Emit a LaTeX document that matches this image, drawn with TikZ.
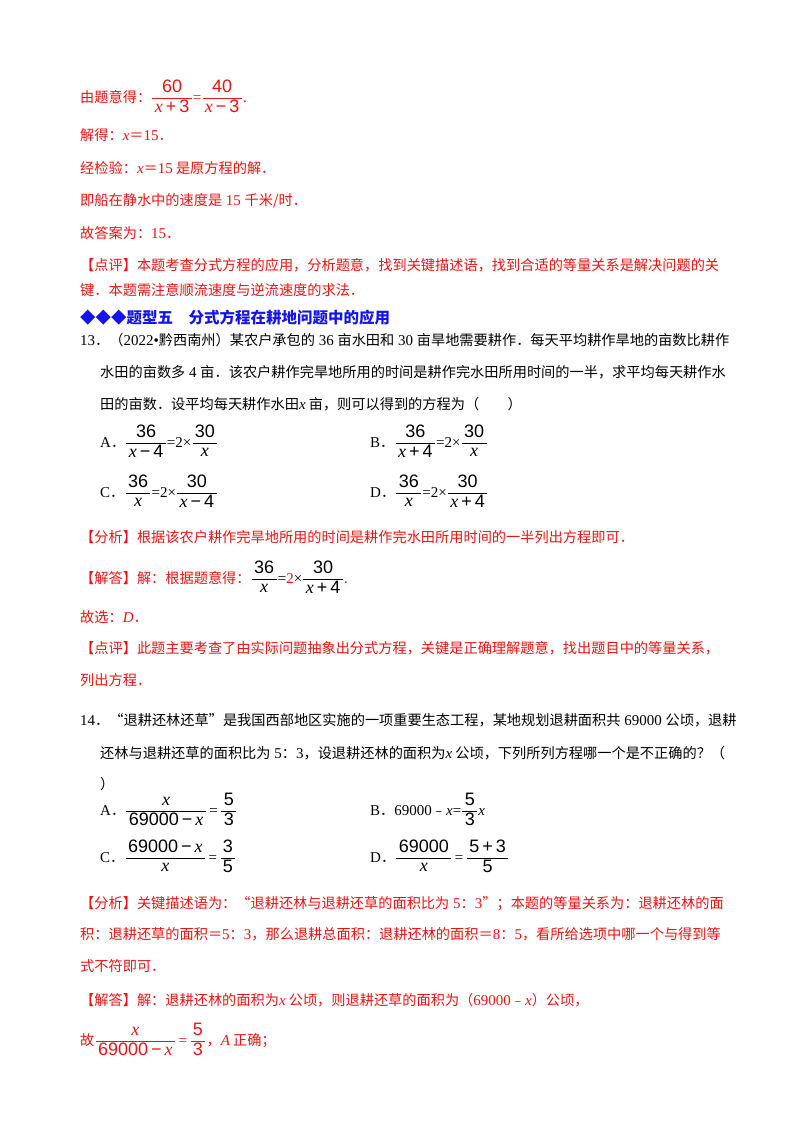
\documentclass[tikz,border=0pt]{standalone}
\usepackage{fontspec}
\usepackage{amsmath}
\setmainfont{Noto Sans CJK SC}
\newfontfamily\tnr{Liberation Serif}
\newfontfamily\arial{Liberation Sans}
\newcommand{\vx}{{\fontsize{15}{18}\tnr\itshape x}}
\newcommand{\T}[1]{{\fontsize{15}{18}\tnr #1}}
\newcommand{\Nm}[1]{\hbox{\fontsize{18}{20}\arial #1}}
\newcommand{\Xm}{\hbox{\fontsize{18}{20}\tnr\itshape x}}
\newcommand{\Fr}[2]{$\displaystyle\frac{\,#1\,}{\,#2\,}$}
\definecolor{ansred}{RGB}{235,20,20}
\definecolor{hblue}{RGB}{20,20,235}
\begin{document}
\begin{tikzpicture}[x=1pt,y=-1pt,every node/.style={anchor=base west,inner sep=0pt,font=\fontsize{14.2}{18}\selectfont},
 red/.style={text=ansred}]
\useasboundingbox[fill=white] (0,0) rectangle (800,1132);
\node[red] (l1) at (80,102) {由题意得：\Fr{\Nm{60}}{\Xm\Nm{\,+\,3}}{\T{=}}\Fr{\Nm{40}}{\Xm\Nm{\,−\,3}}.};
\node[red] (l2) at (80,140) {解得：\vx＝\T{15}．};
\node[red] (l3) at (80,173) {经检验：\vx＝\T{15} 是原方程的解．};
\node[red] (l4) at (80,205) {即船在静水中的速度是\T{ 15 }千米/时．};
\node[red] (l5) at (80,238) {故答案为：\T{15}．};
\node[red] (l6) at (80,270) {【点评】本题考查分式方程的应用，分析题意，找到关键描述语，找到合适的等量关系是解决问题的关};
\node[red] (l7) at (80,295) {键．本题需注意顺流速度与逆流速度的求法．};
\node[text=hblue,font=\fontsize{15.5}{18}\selectfont\bfseries] (h) at (80,323) {◆◆◆题型五\quad 分式方程在耕地问题中的应用};
\node (q1) at (80,345) {\T{13}．（\T{2022•}黔西南州）某农户承包的\T{ 36 }亩水田和\T{ 30 }亩旱地需要耕作．每天平均耕作旱地的亩数比耕作};
\node (q2) at (100,377) {水田的亩数多\T{ 4 }亩．该农户耕作完旱地所用的时间是耕作完水田所用时间的一半，求平均每天耕作水};
\node (q3) at (100,409) {田的亩数．设平均每天耕作水田\vx\ 亩，则可以得到的方程为（\qquad ）};
\node (oa) at (100,447) {\T{A}．\Fr{\Nm{36}}{\Xm\Nm{\,−\,4}}\T{=2×}\Fr{\Nm{30}}{\Xm}};
\node (ob) at (370,447) {\T{B}．\Fr{\Nm{36}}{\Xm\Nm{\,+\,4}}\T{=2×}\Fr{\Nm{30}}{\Xm}};
\node (oc) at (100,497) {\T{C}．\Fr{\Nm{36}}{\Xm}\T{=2×}\Fr{\Nm{30}}{\Xm\Nm{\,−\,4}}};
\node (od) at (370,497) {\T{D}．\Fr{\Nm{36}}{\Xm}\T{=2×}\Fr{\Nm{30}}{\Xm\Nm{\,+\,4}}};
\node[red] (a1) at (80,542) {【分析】根据该农户耕作完旱地所用的时间是耕作完水田所用时间的一半列出方程即可．};
\node (a2) at (80,583) {\textcolor{ansred}{【解答】解：根据题意得：}\Fr{\Nm{36}}{\Xm}\T{=\textcolor{ansred}{2}×}\Fr{\Nm{30}}{\Xm\Nm{\,+\,4}}\textcolor{ansred}{.}};
\node[red] (a3) at (80,622) {故选：\T{\itshape D}．};
\node[red] (a4) at (80,653) {【点评】此题主要考查了由实际问题抽象出分式方程，关键是正确理解题意，找出题目中的等量关系，};
\node[red] (a5) at (80,685) {列出方程．};
\node (p1) at (80,725) {\T{14}．“退耕还林还草”是我国西部地区实施的一项重要生态工程，某地规划退耕面积共\T{ 69000 }公顷，退耕};
\node (p2) at (100,758) {还林与退耕还草的面积比为\T{ 5}：\T{3}，设退耕还林的面积为\vx\ 公顷，下列所列方程哪一个是不正确的？（};
\node (p3) at (100,789) {）};
\node (pa) at (100,815) {\T{A}．\Fr{\Xm}{\Nm{69000\,−\,}\Xm}\,\T{=}\,\Fr{\Nm{5}}{\Nm{3}}};
\node (pb) at (370,815) {\T{B}．\T{69000}﹣\vx\T{=}\Fr{\Nm{5}}{\Nm{3}}\vx};
\node (pc) at (100,862) {\T{C}．\Fr{\Nm{69000\,−\,}\Xm}{\Xm}\,\T{=}\,\Fr{\Nm{3}}{\Nm{5}}};
\node (pd) at (370,862) {\T{D}．\Fr{\Nm{69000}}{\Xm}\,\T{=}\,\Fr{\Nm{5\,+\,3}}{\Nm{5}}};
\node[red] (s1) at (80,908) {【分析】关键描述语为：“退耕还林与退耕还草的面积比为\T{ 5}：\T{3}”；本题的等量关系为：退耕还林的面};
\node[red] (s2) at (80,939) {积：退耕还草的面积＝\T{5}：\T{3}，那么退耕总面积：退耕还林的面积＝\T{8}：\T{5}，看所给选项中哪一个与得到等};
\node[red] (s3) at (80,971) {式不符即可．};
\node[red] (s4) at (80,1005) {【解答】解：退耕还林的面积为\vx\ 公顷，则退耕还草的面积为（\T{69000}﹣\vx）公顷，};
\node[red] (s5) at (80,1045) {故\Fr{\Xm}{\Nm{69000\,−\,}\Xm}\,\T{=}\,\Fr{\Nm{5}}{\Nm{3}}，\T{\itshape A} 正确；};
\end{tikzpicture}
\end{document}
